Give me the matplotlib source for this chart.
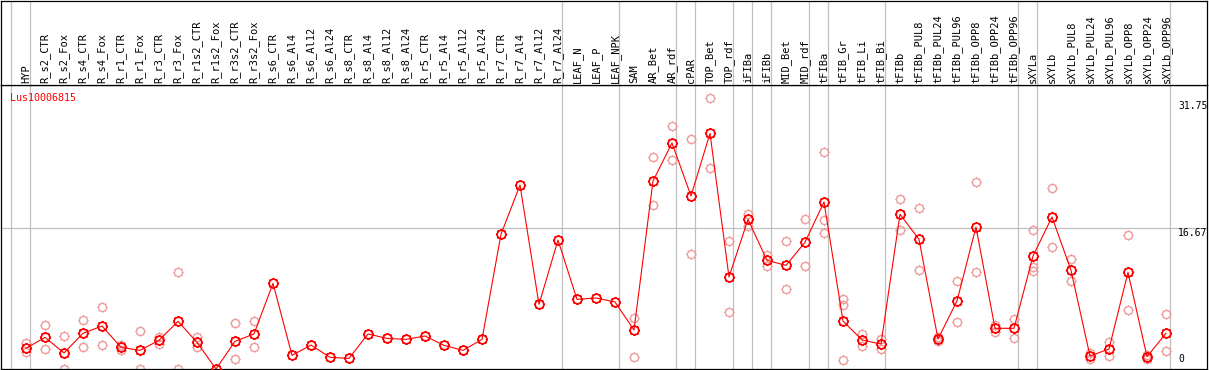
import numpy as np
import matplotlib
matplotlib.use('Agg')
import matplotlib.pyplot as plt
from matplotlib.path import Path

nan = float('nan')

gene = "Lus10006815"

samples = [
    "HYP", "R_s2_CTR", "R_s2_Fox", "R_s4_CTR", "R_s4_Fox", "R_r1_CTR", "R_r1_Fox",
    "R_r3_CTR", "R_r3_Fox", "R_r1s2_CTR", "R_r1s2_Fox", "R_r3s2_CTR", "R_r3s2_Fox",
    "R_s6_CTR", "R_s6_Al4", "R_s6_Al12", "R_s6_Al24", "R_s8_CTR", "R_s8_Al4",
    "R_s8_Al12", "R_s8_Al24", "R_r5_CTR", "R_r5_Al4", "R_r5_Al12", "R_r5_Al24",
    "R_r7_CTR", "R_r7_Al4", "R_r7_Al12", "R_r7_Al24", "LEAF_N", "LEAF_P", "LEAF_NPK",
    "SAM", "AR_Bet", "AR_rdf", "cPAR", "TOP_Bet", "TOP_rdf", "iFIBa", "iFIBb",
    "MID_Bet", "MID_rdf", "tFIBa", "tFIB_Gr", "tFIB_Li", "tFIB_Bi", "tFIBb",
    "tFIBb_PUL8", "tFIBb_PUL24", "tFIBb_PUL96", "tFIBb_OPP8", "tFIBb_OPP24",
    "tFIBb_OPP96", "sXYLa", "sXYLb", "sXYLb_PUL8", "sXYLb_PUL24", "sXYLb_PUL96",
    "sXYLb_OPP8", "sXYLb_OPP24", "sXYLb_OPP96",
]

# mean expression per sample
means = [
    2.45, 3.75, 1.90, 4.23, 5.09, 2.57, 2.21, 3.40, 5.65, 3.16, 0.00, 3.28, 4.15,
    10.15, 1.62, 2.84, 1.38, 1.26, 4.15, 3.63, 3.51, 3.91, 2.80, 2.21, 3.51,
    15.96, 21.80, 7.66, 15.28, 8.25, 8.41, 7.94,
    4.62, 22.27, 26.78, 20.50, 27.92, 10.90, 17.73, 12.87, 12.28, 15.01,
    19.79, 5.69, 3.44, 2.96,
    18.33, 15.36, 3.55, 8.06, 16.82, 4.82, 4.82,
    13.39, 18.01, 11.69, 1.54, 2.37, 11.45, 1.46, 4.23,
]

# replicate values
rep_a = [
    3.12, 5.21, 3.91, 5.77, 7.35, 2.88, 4.46, 3.75, 11.49, 3.75, nan, 5.45, 5.65,
    nan, nan, nan, nan, nan, nan, nan, nan, nan, nan, nan, nan,
    nan, nan, nan, nan, nan, nan, nan,
    6.04, 25.08, 28.75, 27.21, 32.07, 15.13, 18.40, 13.55, 15.13, 17.73,
    25.71, 8.29, 4.15, 3.55,
    20.14, 19.04, 3.75, 10.43, 22.12, 5.21, 5.92,
    16.43, 21.41, 13.00, 1.86, 3.16, 15.88, 1.62, 6.48,
]
rep_b = [
    2.05, 2.33, 0.05, 2.61, 2.84, 2.25, 0.00, 2.96, 0.00, 2.65, nan, 1.15, 2.57,
    nan, nan, nan, nan, nan, nan, nan, nan, nan, nan, nan, nan,
    nan, nan, nan, nan, nan, nan, nan,
    1.42, 19.39, 24.72, 13.63, 23.77, 6.75, 16.98, 12.24, 9.44, 12.20,
    17.61, 7.54, 2.76, 2.33,
    16.47, 11.73, 3.32, 5.53, 11.45, 4.42, 3.67,
    12.12, 14.42, 10.43, 1.15, 1.54, 6.99, 1.15, 2.10,
]
rep_c = {42: 16.07, 43: 1.03, 53: 11.61}

# sample index after which a group separator is drawn
group_breaks = [-1, 0, 28, 31, 34, 35, 37, 38, 39, 41, 42, 45, 52, 53, 60]

ytick_vals = [0, 16.67, 31.75]
ytick_text = ["0", "16.67", "31.75"]

# circle marker with small spikes
circ = Path.unit_circle()
verts = list(circ.vertices)
codes = list(circ.codes)
for a in np.deg2rad(np.arange(0, 360, 45)):
    verts += [(np.cos(a), np.sin(a)), (1.3 * np.cos(a), 1.3 * np.sin(a))]
    codes += [Path.MOVETO, Path.LINETO]
spiky = Path(verts, codes)

W, H = 1209, 370
fig = plt.figure(figsize=(W / 100, H / 100), dpi=100)
ax = fig.add_axes([1 / W, 1 / H, 1206 / W, 284 / H])
axh = fig.add_axes([1 / W, 285 / H, 1206 / W, 84.5 / H])

x = np.arange(len(samples))
xlim = (-25 / 19, 60 + 41 / 19)
ymax = 284 / 8.44

for a_ in (ax, axh):
    a_.set_xlim(*xlim)
    a_.set_xticks([])
    a_.set_yticks([])
    for s in a_.spines.values():
        s.set_color('black')
        s.set_linewidth(0.9)
    for b in group_breaks:
        a_.axvline(b + 0.22, color='#c0c0c0', lw=0.9, zorder=0)

axh.set_ylim(0, 1)
ax.set_ylim(0, ymax)
ax.axhline(16.67, color='#c0c0c0', lw=0.9, zorder=0)

# sample names, rotated
for i, name in enumerate(samples):
    axh.text(i, 0.02, name, rotation=90, ha='center', va='bottom',
             family='DejaVu Sans Mono', fontsize=7.5, color='black')

rep_col = '#ee9a9a'
ax.plot(x, rep_a, ls='none', marker=spiky, ms=7.5, mfc='none', mec=rep_col, mew=0.9, zorder=2)
ax.plot(x, rep_b, ls='none', marker=spiky, ms=7.5, mfc='none', mec=rep_col, mew=0.9, zorder=2)
ax.plot(list(rep_c.keys()), list(rep_c.values()), ls='none', marker=spiky, ms=7.5,
        mfc='none', mec=rep_col, mew=0.9, zorder=2)

ax.plot(x, means, color='red', lw=0.8, zorder=3)
ax.plot(x, means, ls='none', marker=spiky, ms=8, mfc='none', mec='red', mew=1.2, zorder=4)

for v, t in zip(ytick_vals, ytick_text):
    yy = v if v > 0 else 0.6
    ax.text(60.63, yy, t, ha='left', va='top' if v > 0 else 'bottom',
            family='DejaVu Sans Mono', fontsize=7, color='black')

ax.text(-0.85, ymax - 0.9, gene, ha='left', va='top', color='red',
        family='DejaVu Sans Mono', fontsize=7.2)

plt.savefig('out.png', dpi=100)
